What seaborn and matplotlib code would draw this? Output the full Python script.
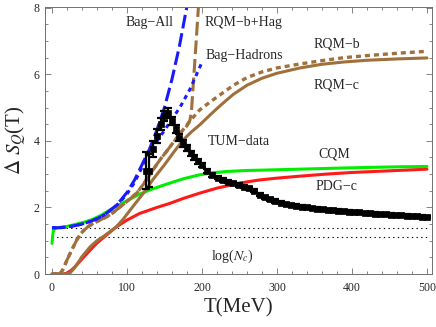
import numpy as np
import matplotlib
matplotlib.use("Agg")
import matplotlib.pyplot as plt
import seaborn as sns

# ---------------- data ----------------
bag_all_T = [0, 10, 20, 30, 40, 50, 60, 70, 77, 85, 90, 100, 110, 120, 130, 140, 150, 160, 170, 180]
bag_all_S = [1.39, 1.39, 1.41, 1.45, 1.5, 1.57, 1.66, 1.78, 1.9, 2.05, 2.17, 2.45, 2.82, 3.28, 3.75, 4.33, 5.0, 5.85, 6.85, 8.05]

bag_had_T = [0, 10, 20, 30, 40, 50, 60, 70, 77, 85, 90, 100, 110, 120, 128, 144, 157, 171, 184, 200]
bag_had_S = [1.39, 1.39, 1.41, 1.45, 1.5, 1.57, 1.66, 1.78, 1.9, 2.04, 2.15, 2.4, 2.75, 3.2, 3.6, 4.12, 4.55, 5.02, 5.55, 6.36]

rqm_hag_T = [0, 10, 12, 15, 20, 27, 33, 38, 42, 48, 55, 64, 73, 82, 90, 100, 113, 122, 133, 144, 152, 160,
             170, 180, 184, 186, 189, 192, 195.5]
rqm_hag_S = [0, 0, 0.05, 0.15, 0.42, 0.75, 1.02, 1.2, 1.3, 1.42, 1.52, 1.62, 1.72, 1.85, 2.0, 2.18, 2.43, 2.7,
             3.07, 3.43, 3.66, 3.9, 4.2, 4.45, 4.62, 4.9, 5.9, 6.9, 8.1]

rqm_b_T = [0, 10, 12, 15, 20, 27, 33, 38, 42, 48, 55, 64, 73, 82, 90, 100, 113, 122, 133, 144, 152, 160,
           170, 180, 188, 197, 211, 224, 242, 260, 280, 300, 331, 360, 390, 420, 460, 500]
rqm_b_S = [0, 0, 0.05, 0.15, 0.42, 0.75, 1.02, 1.2, 1.3, 1.42, 1.52, 1.62, 1.72, 1.85, 2.0, 2.18, 2.43, 2.7,
           3.07, 3.43, 3.66, 3.9, 4.2, 4.48, 4.7, 4.93, 5.17, 5.38, 5.67, 5.9, 6.07, 6.19, 6.31, 6.41, 6.5,
           6.56, 6.63, 6.69]

rqm_c_T = [0, 20, 24, 30, 40, 51, 60, 70, 80, 86, 95, 108, 122, 135, 150, 162, 175, 186, 197, 210, 220, 230,
           242, 260, 280, 300, 331, 360, 390, 420, 460, 500]
rqm_c_S = [0, 0, 0.03, 0.18, 0.52, 0.82, 1.0, 1.15, 1.32, 1.42, 1.65, 2.03, 2.43, 2.85, 3.28, 3.65, 4.03,
           4.27, 4.48, 4.76, 4.97, 5.17, 5.4, 5.67, 5.88, 6.03, 6.19, 6.3, 6.37, 6.42, 6.46, 6.49]

cqm_T = [0, 1, 2, 5, 10, 20, 33, 45, 55, 66, 77, 88, 100, 115, 131, 145, 157, 175, 197, 215, 233, 260, 280,
         331, 380, 420, 460, 500]
cqm_S = [0.92, 1.15, 1.32, 1.38, 1.4, 1.43, 1.5, 1.57, 1.65, 1.77, 1.92, 2.06, 2.2, 2.38, 2.53, 2.64, 2.73,
         2.86, 2.98, 3.04, 3.08, 3.11, 3.12, 3.15, 3.18, 3.2, 3.22, 3.23]

pdg_T = [0, 15, 20, 25, 30, 40, 51, 60, 70, 86, 100, 117, 140, 157, 175, 197, 220, 250, 275, 300, 331, 365,
         400, 450, 500]
pdg_S = [0, 0, 0.03, 0.1, 0.2, 0.45, 0.72, 0.93, 1.12, 1.42, 1.62, 1.82, 2.0, 2.12, 2.27, 2.43, 2.58, 2.73,
         2.82, 2.88, 2.94, 3.0, 3.05, 3.1, 3.15]

tum_T = [125, 130, 135, 140, 145, 150, 155, 160, 165, 170, 175, 180, 185, 190, 195, 200,
         207, 214, 221, 228, 235, 242, 249, 256, 263, 270, 277, 284, 291, 298, 305, 312,
         319, 326, 333, 340, 347, 354, 361, 368, 375, 382, 389, 396, 403, 410, 417, 424,
         431, 438, 445, 452, 459, 466, 473, 480, 487, 494, 500]
tum_S = [3.1, 3.1, 3.75, 4.15, 4.5, 4.75, 4.85, 4.6, 4.35, 4.1, 3.93, 3.78, 3.62, 3.5, 3.38, 3.27,
         3.1, 2.98, 2.89, 2.82, 2.77, 2.72, 2.67, 2.62, 2.57, 2.5, 2.38, 2.3, 2.24, 2.19, 2.14, 2.1,
         2.07, 2.05, 2.02, 2.0, 1.98, 1.96, 1.94, 1.92, 1.91, 1.9, 1.88, 1.87, 1.86, 1.85, 1.83, 1.82,
         1.81, 1.8, 1.79, 1.78, 1.77, 1.76, 1.75, 1.74, 1.73, 1.72, 1.71]
tum_err = [0.55, 0.5, 0.25, 0.2, 0.18, 0.16, 0.15, 0.13, 0.12, 0.1, 0.1, 0.09, 0.08, 0.08, 0.07, 0.07,
           0.06, 0.06, 0.05, 0.05, 0.05, 0.05, 0.05, 0.05, 0.05, 0.05, 0.05, 0.05, 0.05, 0.05, 0.04, 0.04,
           0.04, 0.04, 0.04, 0.04, 0.04, 0.04, 0.04, 0.04, 0.04, 0.04, 0.04, 0.04, 0.04, 0.04, 0.04, 0.04,
           0.04, 0.04, 0.04, 0.04, 0.04, 0.04, 0.04, 0.04, 0.04, 0.04, 0.04]

nc_levels = [np.log(3), np.log(4)]
nc_T = [0, 500]

x_ticks = [0, 100, 200, 300, 400, 500]
y_ticks = [0, 2, 4, 6, 8]

# ---------------- style ----------------
sns.set_style("ticks")
plt.rcParams["font.family"] = ["Liberation Serif", "DejaVu Serif"]
plt.rcParams["mathtext.fontset"] = "stix"

BROWN = "#a0703c"
GREEN = "#00ee00"
RED = "#ff1a1a"
BLUE = "#1a1aff"
FRAME = "#707070"

fig = plt.figure(figsize=(4.36, 3.27), dpi=100)
ax = fig.add_axes([0.1032, 0.162, 0.8876, 0.8166])

# log(N_c) reference lines
for lv in nc_levels:
    sns.lineplot(x=nc_T, y=[lv, lv], ax=ax, color="black", lw=0.8,
                 linestyle=(0, (1.2, 3.0)), sort=False)

sns.lineplot(x=pdg_T, y=pdg_S, ax=ax, color=RED, lw=2.2, sort=False)
sns.lineplot(x=cqm_T, y=cqm_S, ax=ax, color=GREEN, lw=2.2, sort=False)
sns.lineplot(x=rqm_c_T, y=rqm_c_S, ax=ax, color=BROWN, lw=2.2, sort=False)
sns.lineplot(x=rqm_b_T, y=rqm_b_S, ax=ax, color=BROWN, lw=2.4,
             linestyle=(0, (1.5, 1.2)), sort=False)
sns.lineplot(x=rqm_hag_T, y=rqm_hag_S, ax=ax, color=BROWN, lw=2.2,
             linestyle=(0, (4.5, 1.6)), sort=False)
sns.lineplot(x=bag_had_T, y=bag_had_S, ax=ax, color=BLUE, lw=2.2,
             linestyle=(0, (1.4, 1.4)), sort=False)
sns.lineplot(x=bag_all_T, y=bag_all_S, ax=ax, color=BLUE, lw=2.2,
             linestyle=(0, (4.5, 1.6)), sort=False)

# TUM data
ax.errorbar(tum_T, tum_S, yerr=tum_err, fmt="none", ecolor="black",
            elinewidth=1.6, capsize=3, capthick=1.6, zorder=5)
sns.scatterplot(x=tum_T, y=tum_S, ax=ax, marker="s", s=24, color="black",
                edgecolor="black", linewidth=0.5, zorder=6)

# labels
fs = 10
ax.text(130, 7.55, "Bag\u2212All", fontsize=fs, ha="center", va="center")
ax.text(204, 7.55, "RQM\u2212b+Hag", fontsize=fs, ha="left", va="center")
ax.text(205, 6.56, "Bag\u2212Hadrons", fontsize=fs, ha="left", va="center")
ax.text(380, 6.9, "RQM\u2212b", fontsize=fs, ha="center", va="center")
ax.text(379, 5.68, "RQM\u2212c", fontsize=fs, ha="center", va="center")
ax.text(249, 3.98, "TUM\u2212data", fontsize=fs, ha="center", va="center")
ax.text(377, 3.61, "CQM", fontsize=fs, ha="center", va="center")
ax.text(380, 2.63, "PDG\u2212c", fontsize=fs, ha="center", va="center")
ax.text(240, 0.52, r"log($N_c$)", fontsize=fs, ha="center", va="center")

ax.set_xlim(-9.3, 506.7)
ax.set_ylim(0, 8.02)
ax.set_xticks(x_ticks)
ax.set_yticks(y_ticks)
ax.set_xticks(np.arange(0, 501, 20), minor=True)
ax.set_yticks(np.arange(0, 8.01, 0.5), minor=True)
ax.tick_params(which="both", direction="in", top=True, right=True,
               color=FRAME, labelsize=8.5, width=0.6)
ax.tick_params(which="major", length=4)
ax.tick_params(axis="x", which="major", pad=6)
ax.tick_params(axis="y", which="major", pad=4)
ax.tick_params(which="minor", length=2.2)
for sp in ax.spines.values():
    sp.set_color(FRAME)
    sp.set_linewidth(0.7)

ax.set_xlabel("T(MeV)", fontsize=15, labelpad=3)
ax.set_ylabel(r"$\Delta\ S_Q$(T)", fontsize=15, labelpad=4)

fig.savefig("out.png", dpi=100)
